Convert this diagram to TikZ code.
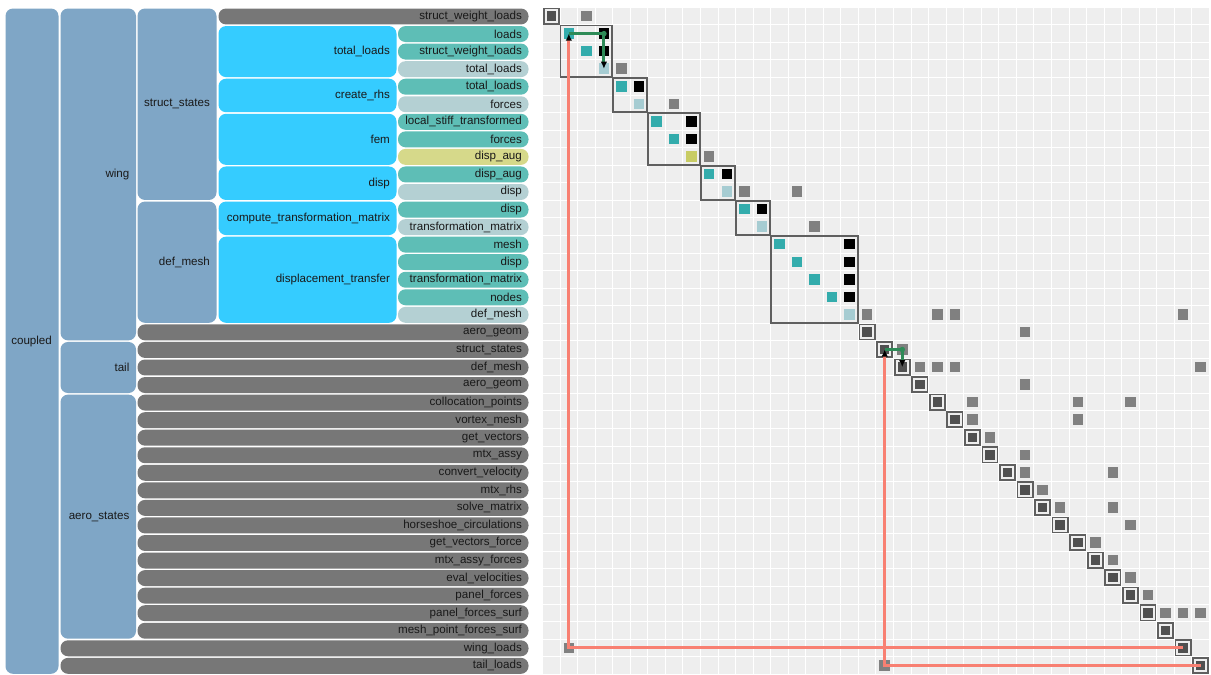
\documentclass[tikz,border=0pt]{standalone}
\usepackage{fontspec}
\setmainfont{Liberation Sans}
\usetikzlibrary{arrows.meta}

% tree colours
\definecolor{grpc}{RGB}{127,166,198}
\definecolor{compc}{RGB}{53,204,255}
\definecolor{paramc}{RGB}{94,190,182}
\definecolor{unkc}{RGB}{180,208,211}
\definecolor{implc}{RGB}{214,217,138}
\definecolor{leafc}{RGB}{119,119,119}
\definecolor{txtc}{RGB}{25,25,25}
% matrix colours
\definecolor{bgc}{RGB}{238,238,238}
\definecolor{tealc}{RGB}{51,172,172}
\definecolor{lightc}{RGB}{166,204,210}
\definecolor{yelc}{RGB}{200,204,100}
\definecolor{offc}{RGB}{128,128,128}
\definecolor{diagc}{RGB}{80,80,80}
\definecolor{boxc}{RGB}{95,95,95}
\definecolor{redc}{RGB}{248,128,114}
\definecolor{greenc}{RGB}{46,139,87}

\newcommand\labfont{\fontsize{11.6}{13.9}\selectfont}

% \treebar{name}{x1}{x2}{first row}{last row}{style}{text}
\newcommand\treebar[7]{%
  \pgfmathsetmacro\tbw{#3-(#2)}%
  \pgfmathsetmacro\tbh{(#5-(#4)+1)*17.55-1.6}%
  \pgfmathsetmacro\tbcx{(#2+#3)/2}%
  \pgfmathsetmacro\tbcy{7.3+(#4+#5-1)*17.55/2+0.4}%
  \node[#6, minimum width=\tbw pt, minimum height=\tbh pt] (#1) at (\tbcx,\tbcy)
    {\makebox[\tbw pt][r]{#7\hspace{6.6pt}}};%
}

\begin{document}
\begin{tikzpicture}[x=1pt,y=-1pt,
  barbase/.style={inner sep=0pt, rounded corners=7.5pt, text=txtc, font=\labfont},
  grp/.style={barbase, fill=grpc},
  comp/.style={barbase, fill=compc},
  leaf/.style={barbase, fill=leafc},
  par/.style={barbase, fill=paramc},
  unk/.style={barbase, fill=unkc},
  impl/.style={barbase, fill=implc},
  cellbase/.style={inner sep=0pt, minimum size=10.5pt, draw=none},
  cellD/.style={cellbase, fill=diagc, minimum size=9.5pt},
  cellG/.style={cellbase, fill=offc},
  cellT/.style={cellbase, fill=tealc},
  cellK/.style={cellbase, fill=black},
  cellL/.style={cellbase, fill=lightc},
  cellY/.style={cellbase, fill=yelc},
  diagbox/.style={draw=boxc, line width=1.7pt, minimum size=15.2pt, inner sep=0pt},
  compbox/.style={draw=boxc, line width=1.7pt},
  gridline/.style={white, line width=1pt},
  redline/.style={draw=redc, line width=3pt, -{Latex[length=7pt,width=6.5pt,color=black]}},
  greenline/.style={draw=greenc, line width=3pt, -{Latex[length=7pt,width=6.5pt,color=black]}},
  joint/.style={circle, fill=greenc, inner sep=0pt, minimum size=5.5pt}
]
\useasboundingbox (0,0) rectangle (1211,675);
\fill[white] (0,0) rectangle (1211,675);

% ---------- model tree ----------
\treebar{coupled}{5.5}{58.5}{1}{38}{grp}{coupled}
\treebar{wing}{60.5}{136}{1}{19}{grp}{wing}
\treebar{tail}{60.5}{136}{20}{22}{grp}{tail}
\treebar{aerostates}{60.5}{136}{23}{36}{grp}{aero\_states}
\treebar{wingloads}{60.5}{528.5}{37}{37}{leaf}{wing\_loads}
\treebar{tailloads}{60.5}{528.5}{38}{38}{leaf}{tail\_loads}

\treebar{structstates}{137.5}{216.5}{1}{11}{grp}{struct\_states}
\treebar{defmeshgrp}{137.5}{216.5}{12}{18}{grp}{def\_mesh}
\treebar{wingaerogeom}{137.5}{528.5}{19}{19}{leaf}{aero\_geom}
\treebar{tailstruct}{137.5}{528.5}{20}{20}{leaf}{struct\_states}
\treebar{taildefmesh}{137.5}{528.5}{21}{21}{leaf}{def\_mesh}
\treebar{tailaerogeom}{137.5}{528.5}{22}{22}{leaf}{aero\_geom}

\foreach \r/\t in {23/collocation\_points, 24/vortex\_mesh, 25/get\_vectors,
  26/mtx\_assy, 27/convert\_velocity, 28/mtx\_rhs, 29/solve\_matrix,
  30/horseshoe\_circulations, 31/get\_vectors\_force, 32/mtx\_assy\_forces,
  33/eval\_velocities, 34/panel\_forces, 35/panel\_forces\_surf,
  36/mesh\_point\_forces\_surf}
  {\treebar{aero\r}{137.5}{528.5}{\r}{\r}{leaf}{\t}}

\treebar{swl}{218.5}{528.5}{1}{1}{leaf}{struct\_weight\_loads}
\treebar{totalloads}{218.5}{396.5}{2}{4}{comp}{total\_loads}
\treebar{createrhs}{218.5}{396.5}{5}{6}{comp}{create\_rhs}
\treebar{fem}{218.5}{396.5}{7}{9}{comp}{fem}
\treebar{disp}{218.5}{396.5}{10}{11}{comp}{disp}
\treebar{ctm}{218.5}{396.5}{12}{13}{comp}{compute\_transformation\_matrix}
\treebar{dtransfer}{218.5}{396.5}{14}{18}{comp}{displacement\_transfer}

\foreach \r/\s/\t in {2/par/loads, 3/par/struct\_weight\_loads, 4/unk/total\_loads,
  5/par/total\_loads, 6/unk/forces, 7/par/local\_stiff\_transformed,
  8/par/forces, 9/impl/disp\_aug, 10/par/disp\_aug, 11/unk/disp,
  12/par/disp, 13/unk/transformation\_matrix, 14/par/mesh, 15/par/disp,
  16/par/transformation\_matrix, 17/par/nodes, 18/unk/def\_mesh}
  {\treebar{var\r}{398}{528.5}{\r}{\r}{\s}{\t}}

% ---------- N2 matrix ----------
\fill[bgc] (542.5,7.3) rectangle (1209.4,674.2);
\foreach \i in {0,...,38} {
  \draw[gridline] ({542.5+\i*17.55},7.3) -- ({542.5+\i*17.55},674.2);
  \draw[gridline] (542.5,{7.3+\i*17.55}) -- (1209.4,{7.3+\i*17.55});
}

% component blocks
\foreach \a/\b in {2/4,5/6,7/9,10/11,12/13,14/18}
  \draw[compbox] ({542.5+(\a-1)*17.55+0.5},{7.3+(\a-1)*17.55+0.5})
    rectangle ({542.5+\b*17.55-0.5},{7.3+\b*17.55-0.5});

% frames of the single-variable diagonal blocks
\foreach \r in {1,19,20,...,38}
  \node[diagbox] (b\r) at ({542.5+(\r-0.5)*17.55},{7.3+(\r-0.5)*17.55}) {};

% cells: row/column/kind
\foreach \r/\c/\k in {
  1/1/D, 1/3/G,
  2/2/T, 2/4/K,
  3/3/T, 3/4/K,
  4/4/L, 4/5/G,
  5/5/T, 5/6/K,
  6/6/L, 6/8/G,
  7/7/T, 7/9/K,
  8/8/T, 8/9/K,
  9/9/Y, 9/10/G,
  10/10/T, 10/11/K,
  11/11/L, 11/12/G, 11/15/G,
  12/12/T, 12/13/K,
  13/13/L, 13/16/G,
  14/14/T, 14/18/K,
  15/15/T, 15/18/K,
  16/16/T, 16/18/K,
  17/17/T, 17/18/K,
  18/18/L, 18/19/G, 18/23/G, 18/24/G, 18/37/G,
  19/19/D, 19/28/G,
  20/20/D, 20/21/G,
  21/21/D, 21/22/G, 21/23/G, 21/24/G, 21/38/G,
  22/22/D, 22/28/G,
  23/23/D, 23/25/G, 23/31/G, 23/34/G,
  24/24/D, 24/25/G, 24/31/G,
  25/25/D, 25/26/G,
  26/26/D, 26/28/G,
  27/27/D, 27/28/G, 27/33/G,
  28/28/D, 28/29/G,
  29/29/D, 29/30/G, 29/33/G,
  30/30/D, 30/34/G,
  31/31/D, 31/32/G,
  32/32/D, 32/33/G,
  33/33/D, 33/34/G,
  34/34/D, 34/35/G,
  35/35/D, 35/36/G, 35/37/G, 35/38/G,
  36/36/D,
  37/37/D, 37/2/G,
  38/38/D, 38/20/G}
  \node[cell\k] (c\r-\c) at ({542.5+(\c-0.5)*17.55},{7.3+(\r-0.5)*17.55}) {};

% connection traces
\draw[greenline] (c2-2.center) -- (c2-4.center) -- (c4-4.center);
\node[joint] (j1) at (c2-4.center) {};
\draw[greenline] (c20-20.center) -- (c20-21.center) -- (c21-21.center);
\node[joint] (j2) at (c20-21.center) {};
\draw[redline] (c37-37.center) -- (c37-2.center) -- (c2-2.center);
\draw[redline] (c38-38.center) -- (c38-20.center) -- (c20-20.center);
\end{tikzpicture}
\end{document}
